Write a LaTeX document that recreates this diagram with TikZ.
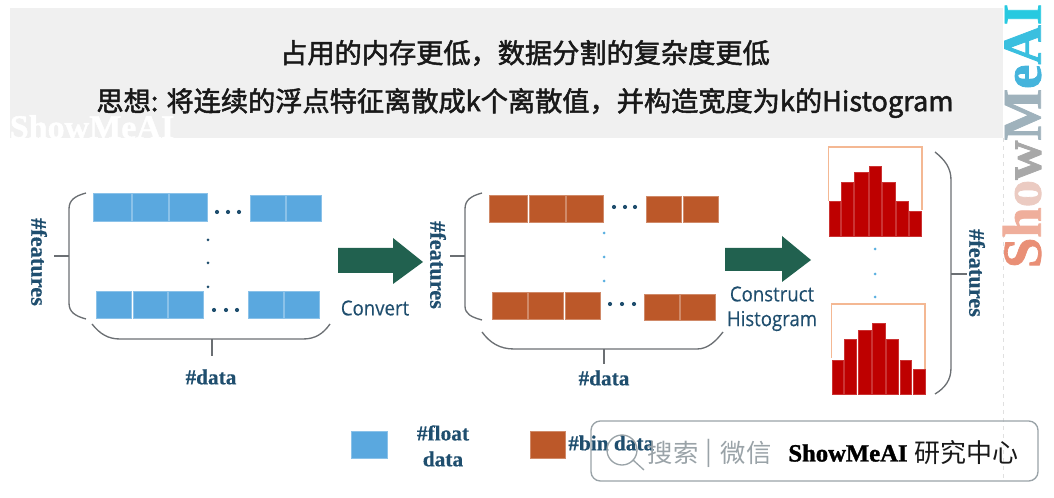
\documentclass[tikz,border=0pt]{standalone}
\usepackage{fontspec}
\setmainfont{Liberation Serif}[BoldFeatures={FakeBold=0.4}]
\newfontfamily\heavyserif{Liberation Serif}[BoldFeatures={FakeBold=1.4}]
\newfontfamily\cjkm[FakeBold=1.8]{Noto Sans CJK SC}
\newfontfamily\cjkr{Noto Sans CJK SC}
\newfontfamily\opens[FakeStretch=0.9,FakeBold=0.25]{Open Sans}
\definecolor{band}{HTML}{F0F0F0}
\definecolor{navy}{HTML}{1F4E6E}
\definecolor{cellblue}{HTML}{5AA8DF}
\definecolor{cellorange}{HTML}{BC5829}
\definecolor{arrowgreen}{HTML}{21614F}
\definecolor{barred}{HTML}{BE0000}
\definecolor{peach}{HTML}{F4B893}
\definecolor{bracegrey}{HTML}{6B6F73}
\definecolor{dotblue}{HTML}{5AB0E0}
\definecolor{wmgrey}{HTML}{9AA3A8}
\tikzset{
  title/.style={font=\cjkm\fontsize{20.4}{24}\selectfont,text=black!90,inner sep=0pt},
  serifnavy/.style={font=\bfseries\fontsize{16}{18}\selectfont,text=navy,inner sep=0pt},
  featlabel/.style={font=\bfseries\fontsize{16.8}{18}\selectfont,text=navy,inner sep=0pt,rotate=-90},
  sansnavy/.style={font=\opens\fontsize{15.5}{18}\selectfont,text=navy,inner sep=0pt},
  bluecell/.style={fill=cellblue,draw=cellblue!70!white,line width=0.4pt},
  orangecell/.style={fill=cellorange,draw=cellorange!70!white,line width=0.4pt},
  brace/.style={draw=bracegrey,line width=1pt},
  bigarrow/.style={fill=arrowgreen},
  bar/.style={fill=barred,draw=barred!80!white,line width=0.3pt},
  frame/.style={draw=peach,line width=1pt},
  navydot/.style={fill=navy},
  lightdot/.style={fill=dotblue},
  greyw/.style={font=\cjkr\fontsize{19}{22}\selectfont,text=wmgrey,inner sep=0pt},
  blackw/.style={font=\cjkr\fontsize{19.5}{22}\selectfont,text=black!90,inner sep=0pt},
}
\newcommand{\rect}[5]{\path[#1] (#2,#3) rectangle (#4,#5);}
\newcommand{\dotat}[3]{\fill[#1] (#2,#3) circle (1.5);}
\newcommand{\dotbig}[3]{\fill[#1] (#2,#3) circle (2.1);}
\begin{document}
\begin{tikzpicture}[x=0.75pt,y=-0.75pt]
\useasboundingbox (0,0) rectangle (1054,498);
% band
\fill[band] (10,8) rectangle (1003,138);
\draw[black!12,dashed,line width=0.5pt] (1003,138) -- (1003,478);
\node[title] (t1) at (525,53) {占用的内存更低，数据分割的复杂度更低};
\node[title] (t2) at (525,103) {思想: 将连续的浮点特征离散成k个离散值，并构造宽度为k的Histogram};
\node[inner sep=0pt,text=white,font=\heavyserif\bfseries\fontsize{25.5}{28}\selectfont] (wm1) at (92,127) {ShowMeAI};
% side watermark
\node[rotate=90,inner sep=0pt,font=\heavyserif\bfseries\fontsize{41}{44}\selectfont] (wm2) at (1022,136) {\textcolor[HTML]{E98F76}{S}\textcolor[HTML]{EFAE9B}{h}\textcolor[HTML]{EBCBC2}{o}\textcolor[HTML]{A8A8A8}{w}\textcolor[HTML]{9FB2BC}{M}\textcolor[HTML]{45B4DC}{e}\textcolor[HTML]{3ABFDF}{A}\textcolor[HTML]{27C9E0}{I}};
% blue rows
\rect{bluecell}{93}{193}{131}{221}\rect{bluecell}{132}{193}{168}{221}\rect{bluecell}{169}{193}{207}{221}
\rect{bluecell}{250}{195}{285}{221}\rect{bluecell}{286}{195}{321}{221}
\rect{bluecell}{96}{291}{131}{318}\rect{bluecell}{133}{291}{167}{318}\rect{bluecell}{168}{291}{203}{318}
\rect{bluecell}{248}{291}{283}{318}\rect{bluecell}{284}{291}{319}{318}
\dotbig{navydot}{217}{212}\dotbig{navydot}{228}{212}\dotbig{navydot}{239}{212}
\dotbig{navydot}{214}{310}\dotbig{navydot}{226}{310}\dotbig{navydot}{237}{310}
\dotat{navydot}{208}{240}\dotat{navydot}{208}{263}\dotat{navydot}{208}{287}
% first braces
\draw[brace] (86,193) .. controls (75,196) and (69,200) .. (69,209) -- (69,303) .. controls (69,312) and (75,316) .. (86,319);
\coordinate (b1l) at (69,256); \coordinate (b1lt) at (54,256);
\draw[brace] (b1l) -- (b1lt);
\draw[brace] (92,324) .. controls (100,334) and (108,339) .. (120,339) -- (303,339) .. controls (315,339) and (323,334) .. (330,324);
\coordinate (b1b) at (212,339); \coordinate (b1bt) at (212,356);
\draw[brace] (b1b) -- (b1bt);
\node[serifnavy] (d1) at (211,377) {\#data};
\node[featlabel] (f1) at (39,262) {\#features};
% arrow 1
\path[bigarrow] (338,248) -- (393,248) -- (393,238) -- (423,262) -- (393,284) -- (393,273) -- (338,273) -- cycle;
\node[sansnavy] (c1) at (375,308) {Convert};
% orange rows
\rect{orangecell}{489}{195}{527}{222}\rect{orangecell}{529}{195}{565}{222}\rect{orangecell}{566}{195}{603}{222}
\rect{orangecell}{646}{196}{681}{222}\rect{orangecell}{683}{196}{718}{222}
\rect{orangecell}{492}{292}{527}{319}\rect{orangecell}{528}{292}{563}{319}\rect{orangecell}{565}{292}{600}{319}
\rect{orangecell}{644}{294}{679}{320}\rect{orangecell}{680}{294}{715}{320}
\dotbig{navydot}{614}{207}\dotbig{navydot}{625}{207}\dotbig{navydot}{635}{207}
\dotbig{navydot}{610}{304}\dotbig{navydot}{622}{304}\dotbig{navydot}{634}{304}
\dotat{lightdot}{604}{233}\dotat{lightdot}{604}{257}\dotat{lightdot}{604}{281}
% second braces
\draw[brace] (482,193) .. controls (471,196) and (465,200) .. (465,209) -- (465,306) .. controls (465,314) and (471,317) .. (482,320);
\coordinate (b2l) at (465,256); \coordinate (b2lt) at (450,256);
\draw[brace] (b2l) -- (b2lt);
\draw[brace] (482,332) .. controls (490,343) and (500,349) .. (514,349) -- (697,349) .. controls (708,349) and (716,341) .. (723,332);
\coordinate (b2b) at (604,349); \coordinate (b2bt) at (604,364);
\draw[brace] (b2b) -- (b2bt);
\node[serifnavy] (d2) at (604,378) {\#data};
\node[featlabel] (f2) at (438,265) {\#features};
% arrow 2
\path[bigarrow] (725,248) -- (782,248) -- (782,236) -- (811,260) -- (782,282) -- (782,271) -- (725,271) -- cycle;
\node[sansnavy] (c2) at (772,294) {Construct};
\node[sansnavy] (c3) at (772,321) {Histogram};
% histogram 1
\draw[frame] (828.5,201) -- (828.5,147) -- (922,147) -- (922,210);
\rect{bar}{829}{201}{840}{236}\rect{bar}{841}{182}{853}{236}\rect{bar}{854}{172}{868}{236}\rect{bar}{869}{166}{881}{236}
\rect{bar}{882}{182}{895}{236}\rect{bar}{896}{201}{908}{236}\rect{bar}{909}{211}{921}{236}
\dotat{lightdot}{875}{249}\dotat{lightdot}{875}{274}\dotat{lightdot}{875}{297}
% histogram 2
\draw[frame] (831.5,358) -- (831.5,304) -- (925,304) -- (925,369);
\rect{bar}{832}{360}{843}{394}\rect{bar}{844}{339}{856}{394}\rect{bar}{858}{330}{871}{394}\rect{bar}{872}{323}{885}{394}
\rect{bar}{886}{339}{898}{394}\rect{bar}{900}{360}{911}{394}\rect{bar}{913}{369}{925}{394}
% right brace
\draw[brace] (935,152) .. controls (945,160) and (951,168) .. (951,180) -- (951,368) .. controls (951,380) and (945,388) .. (935,394);
\coordinate (b3r) at (951,274); \coordinate (b3rt) at (967,274);
\draw[brace] (b3r) -- (b3rt);
\node[featlabel] (f3) at (977,273) {\#features};
% legend
\rect{bluecell}{351}{431}{387}{458}
\node[serifnavy] (l1) at (443,433) {\#float};
\node[serifnavy] (l2) at (443,459) {data};
\rect{orangecell}{530}{431}{565}{458}
\node[serifnavy,anchor=west] (l3) at (568,443) {\#bin data};
% wechat box
\draw[wmgrey,line width=1pt,rounded corners=7pt] (591,421) rectangle (1038,481);
\draw[wmgrey,line width=1pt] (622,450) circle (15);
\coordinate (mg1) at (633,460); \coordinate (mg2) at (644,470);
\draw[wmgrey,line width=1pt] (mg1) -- (mg2);
\node[greyw] (w1) at (673,453) {搜索};
\node[greyw] (w2) at (709,453) {|};
\node[greyw] (w3) at (746,453) {微信};
\node[inner sep=0pt,text=black,font=\heavyserif\bfseries\fontsize{18.5}{22}\selectfont] (w4) at (848,453) {ShowMeAI};
\node[blackw] (w5) at (966,453) {研究中心};
\end{tikzpicture}
\end{document}
